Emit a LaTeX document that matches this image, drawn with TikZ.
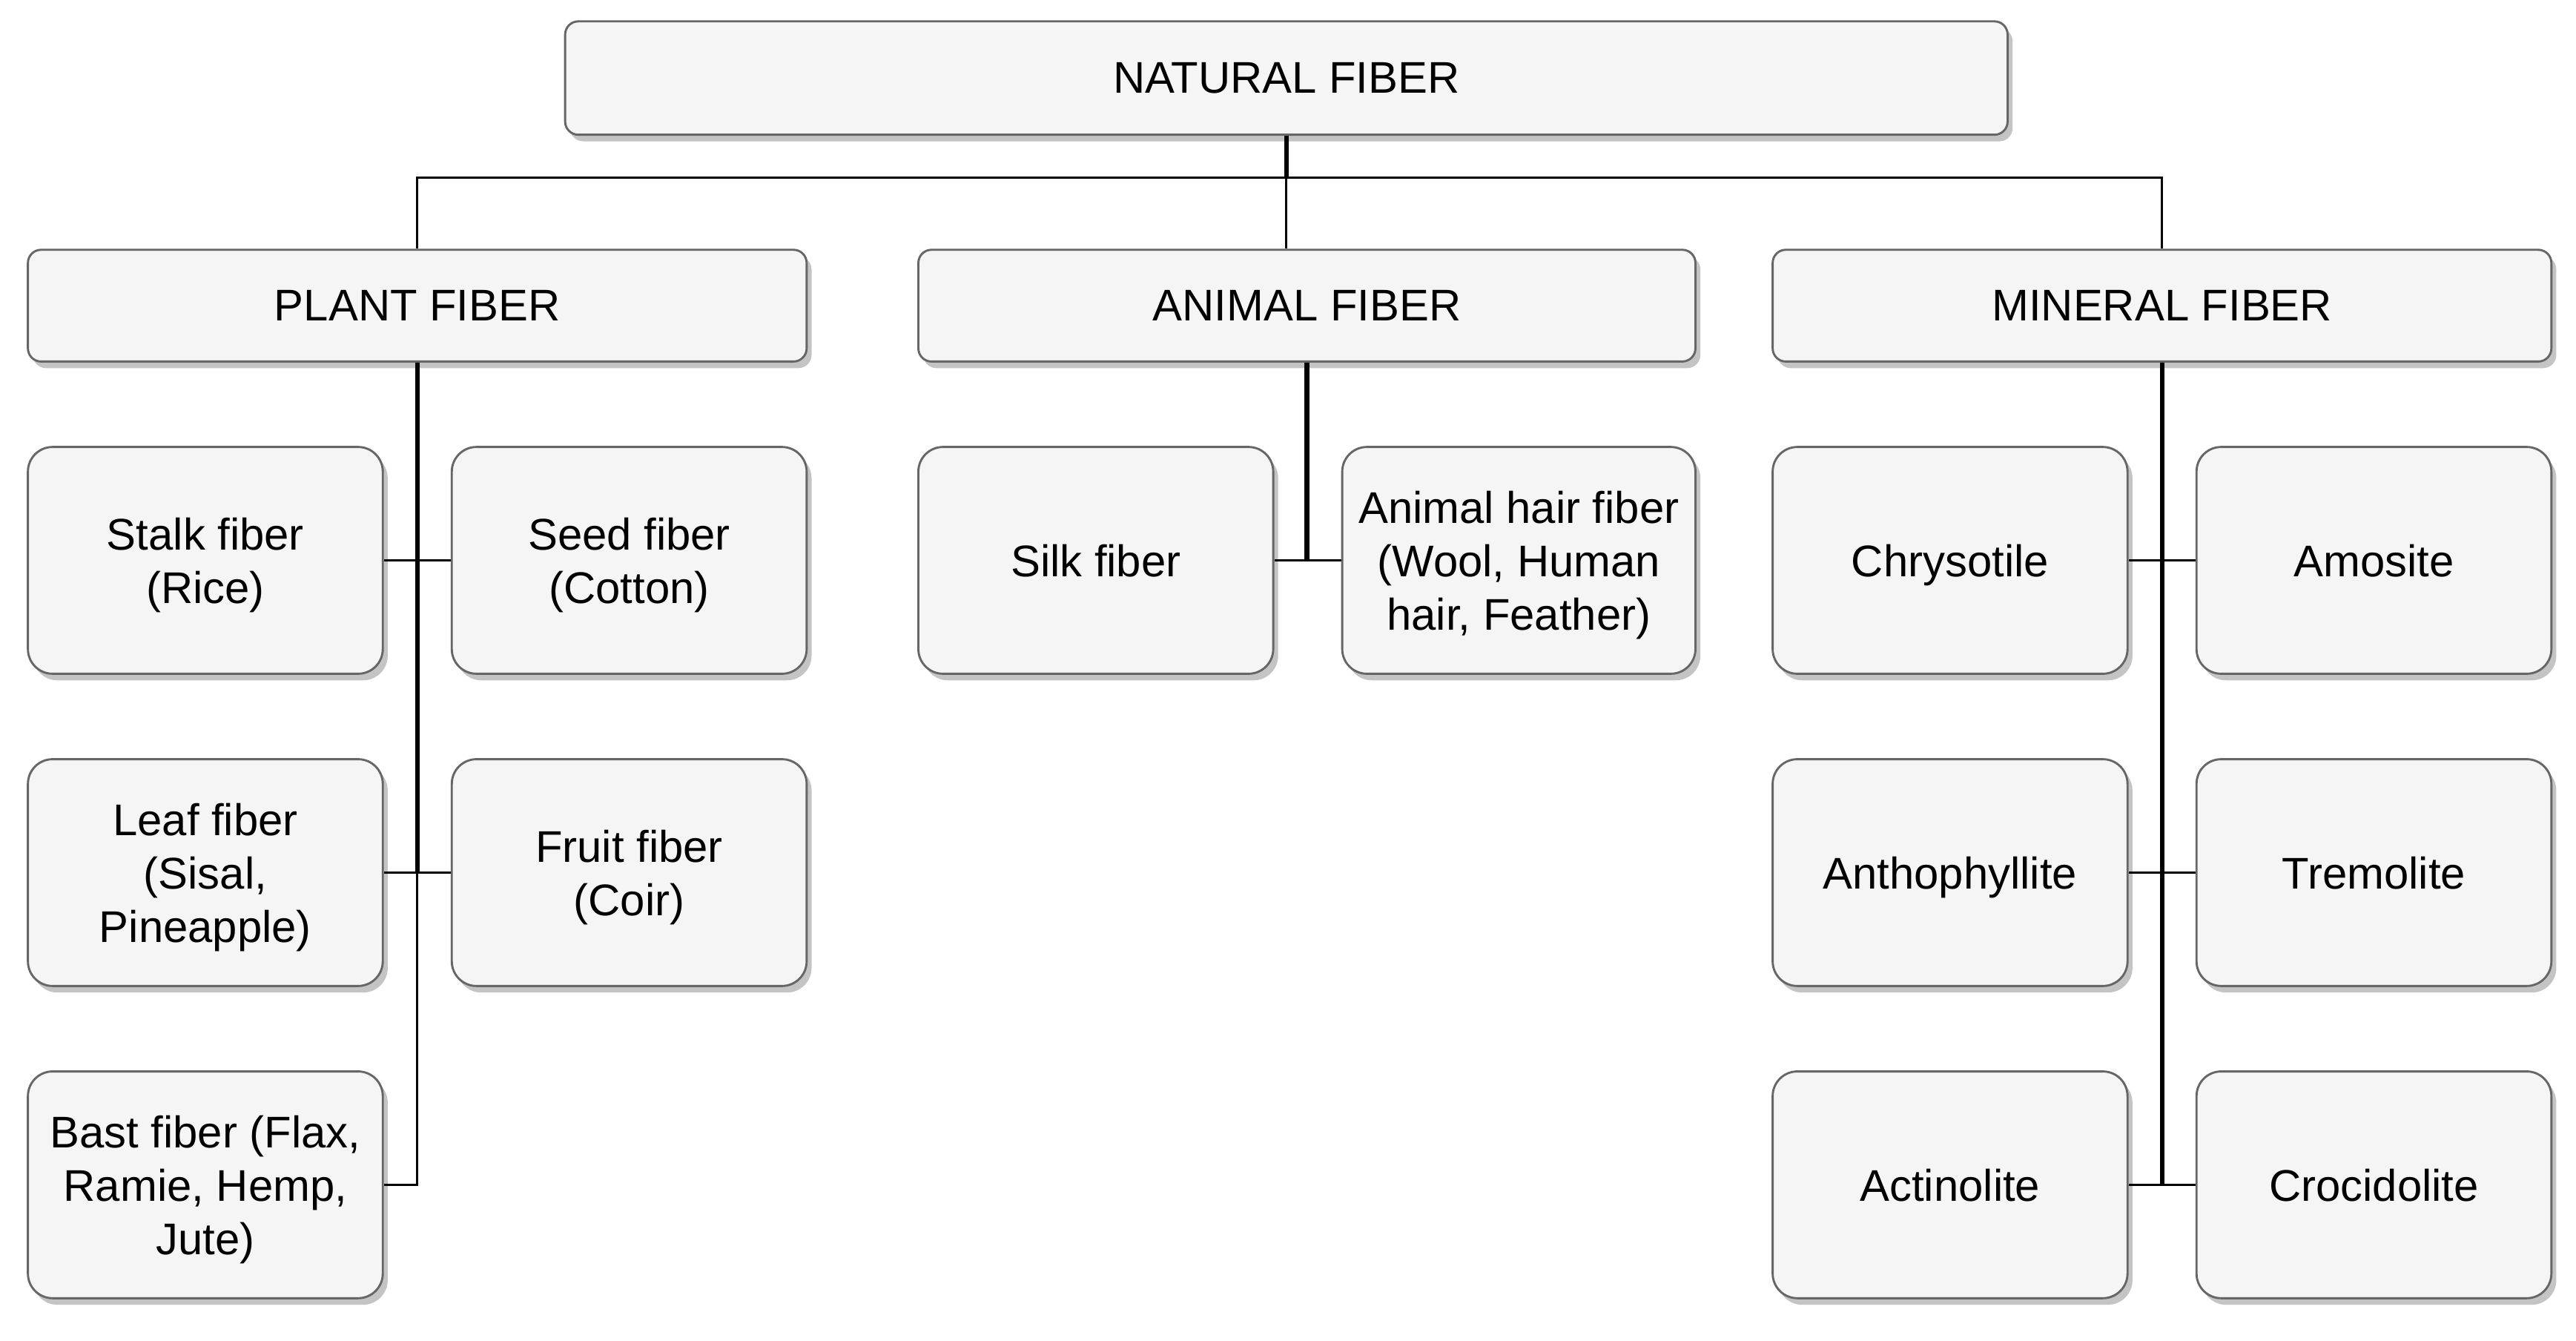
\documentclass[tikz,border=0pt]{standalone}
\usepackage{fontspec}
\setmainfont{Liberation Sans}
\usetikzlibrary{shadows}
\begin{document}
\begin{tikzpicture}[x=1pt,y=-1pt,
  box/.style={draw=boxline, fill=boxfill, line width=1.3pt, rounded corners=15pt,
    minimum width=216pt, minimum height=138pt, inner sep=0pt, align=center,
    text depth=0pt,
    font=\fontsize{27}{32.5}\selectfont, text=black,
    drop shadow={shadow xshift=3pt, shadow yshift=-4pt, fill=shadowgray, opacity=1}},
  headbox/.style={box, rounded corners=8pt, minimum width=474pt, minimum height=68pt},
  link/.style={draw=black, line width=1.5pt},
  trunk/.style={draw=black, line width=2.8pt}]
\definecolor{boxfill}{HTML}{F5F5F5}
\definecolor{boxline}{HTML}{666666}
\definecolor{shadowgray}{HTML}{C4C4C4}
\useasboundingbox (0,0) rectangle (1568,816);
\fill[white] (0,0) rectangle (1568,816);

% headers
\node[headbox, minimum width=878pt, minimum height=69pt] (nat) at (783,47.5) {NATURAL FIBER};
\node[headbox] (plant) at (254,186) {PLANT FIBER};
\node[headbox, minimum width=473pt] (animal) at (795.5,186) {ANIMAL FIBER};
\node[headbox] (mineral) at (1316,186) {MINERAL FIBER};

% plant children
\node[box] (stalk) at (125,341) {Stalk fiber\\(Rice)};
\node[box] (seed) at (383,341) {Seed fiber\\(Cotton)};
\node[box] (leaf) at (125,531) {Leaf fiber\\(Sisal,\\Pineapple)};
\node[box] (fruit) at (383,531) {Fruit fiber\\(Coir)};
\node[box] (bast) at (125,721) {Bast fiber (Flax,\\Ramie, Hemp,\\Jute)};

% animal children
\node[box] (silk) at (667,341) {Silk fiber};
\node[box, minimum width=215pt] (hair) at (924.5,341) {Animal hair fiber\\(Wool, Human\\hair, Feather)};

% mineral children
\node[box] (chry) at (1187,341) {Chrysotile};
\node[box] (amos) at (1445,341) {Amosite};
\node[box] (anth) at (1187,531) {Anthophyllite};
\node[box] (trem) at (1445,531) {Tremolite};
\node[box] (acti) at (1187,721) {Actinolite};
\node[box] (croc) at (1445,721) {Crocidolite};

% connectors from the root
\coordinate (bus) at (783,108);
\draw[link] (nat.south) -- (bus) -| (plant.north);
\draw[link] (nat.south) -- (nat.south |- animal.north);
\draw[link] (nat.south) -- (bus) -| (mineral.north);
\draw[trunk] (nat.south) -- (bus);

% plant connectors
\draw[link] (plant.south) |- (stalk.east);
\draw[link] (plant.south) |- (seed.west);
\draw[link] (plant.south) |- (leaf.east);
\draw[link] (plant.south) |- (fruit.west);
\draw[link] (plant.south) |- (bast.east);
\draw[trunk] (plant.south) -- (plant.south |- leaf.east);

% animal connectors
\draw[link] (animal.south) |- (silk.east);
\draw[link] (animal.south) |- (hair.west);
\draw[trunk] (animal.south) -- (animal.south |- silk.east);

% mineral connectors
\draw[link] (mineral.south) |- (chry.east);
\draw[link] (mineral.south) |- (amos.west);
\draw[link] (mineral.south) |- (anth.east);
\draw[link] (mineral.south) |- (trem.west);
\draw[link] (mineral.south) |- (acti.east);
\draw[link] (mineral.south) |- (croc.west);
\draw[trunk] (mineral.south) -- (mineral.south |- acti.east);
\end{tikzpicture}
\end{document}
